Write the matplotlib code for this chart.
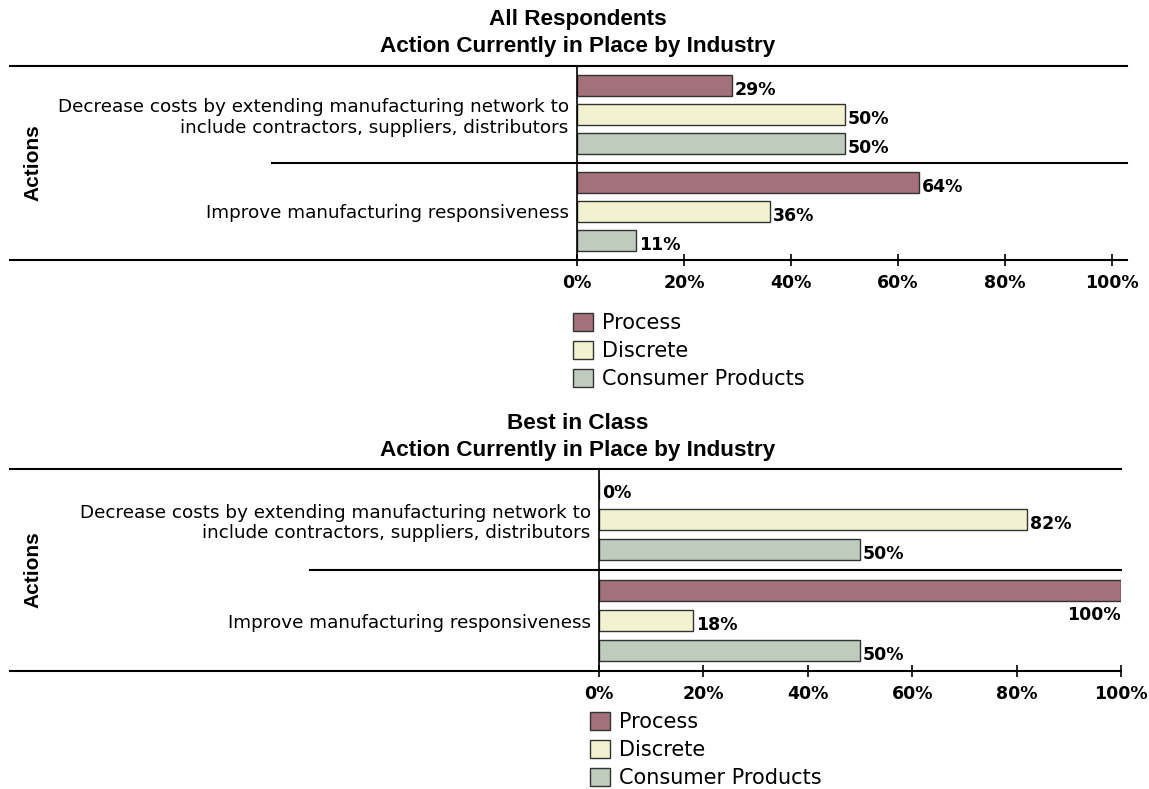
import numpy as np
import matplotlib
matplotlib.use("Agg")
import matplotlib.pyplot as plt
from matplotlib.lines import Line2D
from matplotlib.patches import Patch
from matplotlib.transforms import blended_transform_factory

plt.rcParams['font.family'] = ['DejaVu Sans']

actions = ["Decrease costs by extending manufacturing network to\ninclude contractors, suppliers, distributors",
           "Improve manufacturing responsiveness"]
industries = ["Process", "Discrete", "Consumer Products"]
colors = ["#A3717A", "#F2F2D0", "#BECBBD"]

all_resp = [[29, 50, 50],   # Decrease costs
            [64, 36, 11]]   # Improve responsiveness
best_class = [[0, 82, 50],
              [100, 18, 50]]

W, H = 1149, 789
fig = plt.figure(figsize=(W / 100, H / 100), dpi=100)

def px_box(x0, y0, x1, y1):
    return [x0 / W, 1 - y1 / H, (x1 - x0) / W, (y1 - y0) / H]

def panel(box, data, title1, title2, ty, line_x, sep_x, legend_xy, leg_size):
    ax = fig.add_axes(px_box(*box))
    offs = [-0.3, 0, 0.3]
    for g, vals in enumerate(data):
        for k, v in enumerate(vals):
            y = g + offs[k]
            ax.barh(y, v, height=0.21, color=colors[k], edgecolor="#333333", linewidth=1)
            if v >= 100:
                ax.annotate(f"{v}%", (v, y), xytext=(0, -18), textcoords="offset points",
                            ha="right", va="center", fontsize=12.5, fontweight="bold")
            else:
                ax.annotate(f"{v}%", (v, y), xytext=(2, -3), textcoords="offset points",
                            ha="left", va="center", fontsize=12.5, fontweight="bold")
    ax.set_xlim(0, 100)
    ax.set_ylim(1.5, -0.5)
    ax.set_yticks([0, 1])
    ax.set_yticklabels(actions, fontsize=13.2, linespacing=1.2)
    ax.tick_params(axis="y", length=0, pad=6)
    ax.set_xticks(np.arange(0, 101, 20))
    ax.set_xticklabels([f"{t}%" for t in range(0, 101, 20)], fontsize=12.5, fontweight="bold")
    ax.tick_params(axis="x", direction="inout", length=8, width=1.2, pad=6)
    for s in ["top", "right", "bottom"]:
        ax.spines[s].set_visible(False)
    ax.spines["left"].set_linewidth(1.2)

    tr = blended_transform_factory(fig.transFigure, ax.transAxes)
    for yy in (0, 1):
        fig.add_artist(Line2D([line_x[0] / W, line_x[1] / W], [yy, yy], transform=tr,
                              color="black", linewidth=1.5))
    trd = blended_transform_factory(fig.transFigure, ax.transData)
    fig.add_artist(Line2D([sep_x / W, line_x[1] / W], [0.5, 0.5], transform=trd,
                          color="black", linewidth=1.5))

    fig.text(33 / W, 1 - (box[1] + box[3]) / 2 / H, "Actions", rotation=90,
             ha="center", va="center", fontsize=15, fontweight="bold",
             family="Liberation Sans")
    fig.text(578 / W, 1 - ty / H, title1 + "\n" + title2, ha="center", va="center",
             fontsize=16.2, fontweight="bold", family="Liberation Sans", linespacing=1.42)

    handles = [Patch(facecolor=c, edgecolor="#333333", label=l) for c, l in zip(colors, industries)]
    fig.legend(handles=handles, loc="upper left",
               bbox_to_anchor=(legend_xy[0] / W, 1 - legend_xy[1] / H),
               frameon=False, fontsize=leg_size, handlelength=0.95, handleheight=0.95,
               handletextpad=0.45, labelspacing=0.38, borderpad=0, borderaxespad=0)
    return ax

panel((577, 66, 1112, 260), all_resp, "All Respondents", "Action Currently in Place by Industry",
      33, (10, 1127), 272, (573, 313), 15)
panel((599, 469, 1121, 671), best_class, "Best in Class", "Action Currently in Place by Industry",
      437, (10, 1121), 310, (590, 712), 15)

fig.savefig("out.png", dpi=100)
